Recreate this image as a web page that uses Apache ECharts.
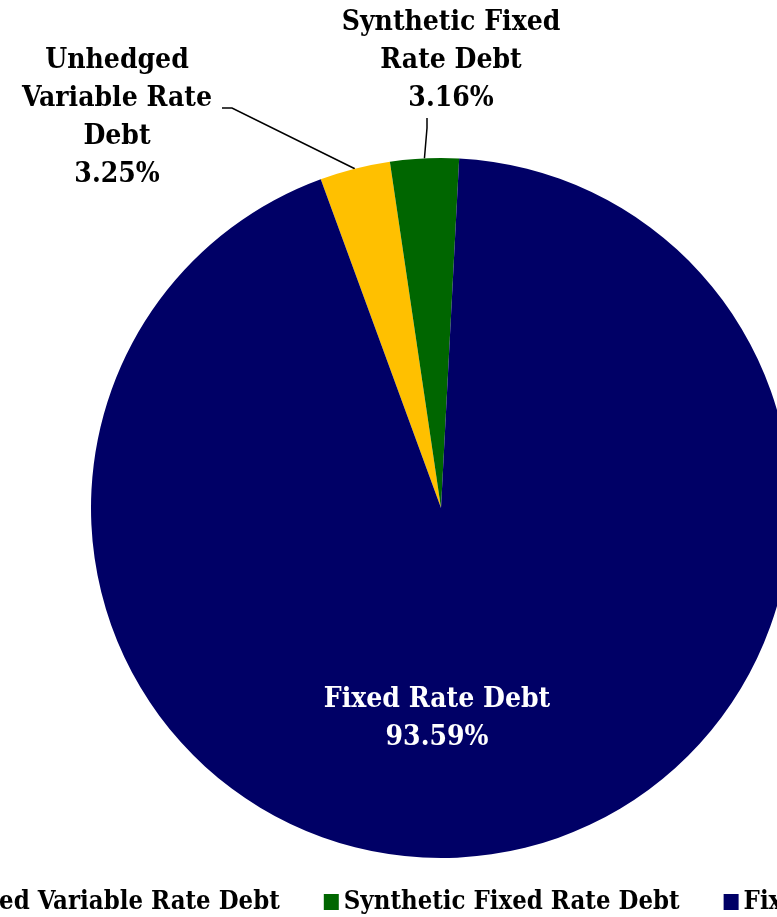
<!DOCTYPE html>
<html>
<head>
<meta charset="utf-8">
<script src="https://cdn.jsdelivr.net/npm/echarts@6/dist/echarts.min.js"></script>
<style>
  html, body { margin: 0; padding: 0; background: #ffffff; }
  #chart { width: 777px; height: 917px; }
</style>
</head>
<body>
<div id="chart"></div>
<script>
// Debt mix, share of total debt (%)
const categories = ['Unhedged Variable Rate Debt', 'Synthetic Fixed Rate Debt', 'Fixed Rate Debt'];
const labelNames = ['Unhedged\nVariable Rate\nDebt', 'Synthetic Fixed\nRate Debt', 'Fixed Rate Debt'];
const shares = [3.25, 3.16, 93.59];
const colors = ['#FFC000', '#006600', '#000066'];

// Label box anchor, padding and a spacer line on top (these steer where the leader line attaches)
const labelSpots = [
  { x: 122, y: 108, padding: [0, 10, 0, 0], spacer: true },
  { x: 427, y: 61, padding: [0, 0, 0, 48], spacer: false },
  { x: 437, y: 719, padding: 0, spacer: false }
];

const FONT = "'DejaVu Serif Condensed', 'Liberation Serif', serif";

const chart = echarts.init(document.getElementById('chart'), null, { renderer: 'canvas' });

const data = categories.map((name, i) => ({
  name: name,
  value: shares[i],
  itemStyle: { color: colors[i] },
  label: {
    color: i === 2 ? '#ffffff' : '#000000',
    padding: labelSpots[i].padding,
    formatter: (labelSpots[i].spacer ? '{s|}\n' : '') + labelNames[i] + '\n' + shares[i].toFixed(2) + '%',
    rich: { s: { lineHeight: 20, fontSize: 10 } }
  },
  labelLine: { show: i !== 2 }
}));

chart.setOption({
  animation: false,
  backgroundColor: '#ffffff',
  legend: {
    data: categories,
    bottom: -3,
    left: -126,
    width: 2000,
    orient: 'horizontal',
    itemWidth: 15,
    itemHeight: 16,
    itemGap: 44,
    icon: 'rect',
    textStyle: { fontFamily: FONT, fontWeight: 'bold', fontSize: 25.5, color: '#000000' }
  },
  series: [{
    type: 'pie',
    center: [441, 508],
    radius: [0, 350],
    startAngle: 110.1,
    clockwise: true,
    avoidLabelOverlap: false,
    data: data,
    label: {
      show: true,
      position: 'outside',
      fontFamily: FONT,
      fontWeight: 'bold',
      fontSize: 28,
      lineHeight: 38,
      align: 'center'
    },
    labelLine: {
      show: true,
      length: 10,
      length2: 10,
      lineStyle: { color: '#000000', width: 1.5 }
    },
    labelLayout: function (p) {
      const s = labelSpots[p.dataIndex];
      return { x: s.x, y: s.y, align: 'center', verticalAlign: 'middle' };
    },
    emphasis: { disabled: true }
  }]
});
</script>
</body>
</html>
